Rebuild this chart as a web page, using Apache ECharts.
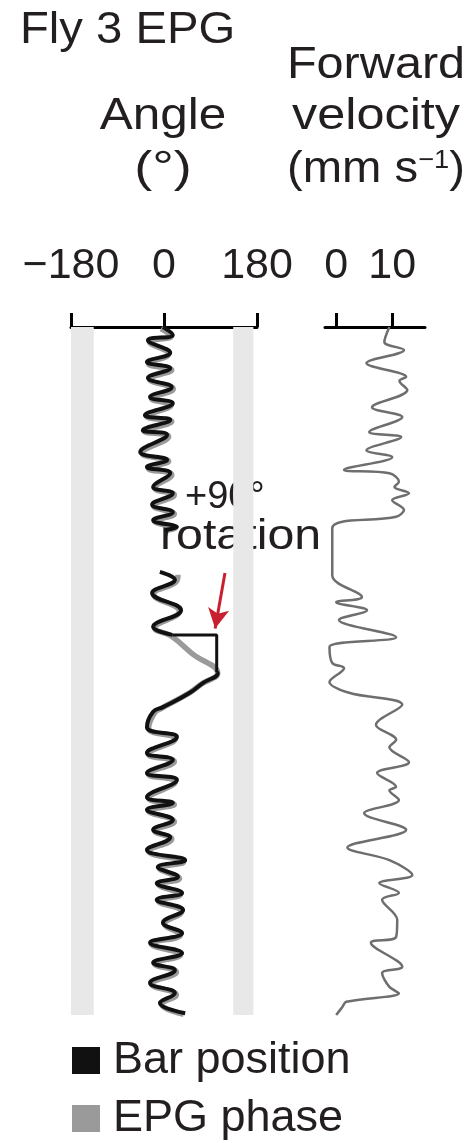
<!DOCTYPE html>
<html>
<head>
<meta charset="utf-8">
<script src="https://cdn.jsdelivr.net/npm/echarts@6/dist/echarts.min.js"></script>
<style>html,body{margin:0;padding:0;background:#fff}#c{width:476px;height:1143px}</style>
</head>
<body>
<div id="c"></div>
<script>
// ---- data (time in s, downward) ----
const angleTicks = [-180, 0, 180];
const velocityTicks = [0, 10];

const barTime  = [0.0,1.4,2.3,4.5,6.1,7.2,8.9,10.5,12.2,13.3,15.4,16.2,18.0,18.8,21.8,23.2,24.4,25.5,27.9,29.0,31.0,32.3,33.7,34.9,35.4,
  39.0,
  42.7,44.1,46.4,49.4,52.3,53.7,
  57.0,
  60.2,60.4,62.1,63.8,66.3,67.1,69.8,71.5,74.3,75.5,77.8,79.0,82.0,83.0,84.2,86.0,87.7,89.0,91.2,93.0,94.2,95.9,97.0,98.7,99.9,101.7,103.9,105.7,107.4,109.2,110.9,112.2,114.4,116.2,117.9,119.7];
const barAngle = [-2,17,-31,12,-33,12,-31,15,-27,17,-37,12,-41,6,-46,6,-33,12,-21,17,-23,17,-21,25,2,
  null,
  -8,21,-23,33,-21,16,
  null,
  102,104,75,50,-2,-21,-33,25,-33,17,-33,25,-33,17,-33,17,-21,12,-33,41,-12,27,-14,35,-14,37,-2,35,-27,35,-21,21,-27,21,-8,41];
// bar jump (+90° rotation of the bar)
const barStepTime  = [53.7, 53.7, 60.2];
const barStepAngle = [16, 102, 102];

const epgTime  = [0.3,1.6,2.6,4.7,6.4,7.5,9.1,10.8,12.5,13.6,15.6,16.5,18.2,19.1,22.0,23.4,24.7,25.8,28.1,29.3,31.2,32.6,33.9,35.1,35.4,
  39.0,
  43.2,44.4,46.6,49.6,52.5,53.9,57.0,60.4,62.3,64.0,66.5,67.3,70.0,71.8,74.5,75.8,78.0,79.3,82.2,83.3,84.4,86.3,87.9,89.3,91.4,93.3,94.4,96.2,97.2,99.0,100.1,102.0,104.1,106.0,107.6,109.5,111.1,112.5,114.6,116.5,118.1,119.9];
const epgAngle = [-6,14,-28,9,-30,15,-28,18,-24,14,-33,15,-38,9,-42,9,-30,15,-18,20,-20,20,-18,22,8,
  null,
  27,24,-20,30,-18,14,55,104,72,46,-5,-18,-30,22,-30,20,-30,22,-30,20,-30,20,-18,15,-30,38,-9,30,-11,32,-11,34,1,32,-24,32,-18,24,-24,24,-5,38];

const velTime  = [0,2.6,4.0,6.3,8.7,9.4,11.0,14.0,15.7,18.3,19.2,21.5,22.7,24.9,25.5,27.0,27.9,29.0,30.2,31.9,33.1,35.1,43.3,47.1,48.0,49.4,51.1,54.1,55.8,58.6,59.5,61.9,63.8,65.9,69.4,72.0,73.3,75.9,77.8,80.2,80.8,82.5,84.8,87.7,90.8,93.0,95.6,97.0,98.7,99.9,103.4,106.4,107.4,111.6,112.7,115.1,116.2,117.7,118.6,120.0];
const velValue = [9.5,8.6,12.1,5.4,12.5,11.3,12.7,6.4,11.8,5.9,11.6,5.4,10.0,1.4,9.5,11.2,10.4,13.0,10.0,12.1,10.7,-0.7,-0.7,4.6,0,5.5,0.5,10.7,-1.2,-0.7,1.4,-1.2,2.3,11.8,7.1,10.7,9.5,13.0,7.3,10.7,9.5,11.2,5.0,12.5,2.0,9.5,13.6,7.7,11.2,8.2,10.9,10.7,6.2,11.8,8.2,9.5,11.2,1.8,1.1,0];

const pair = (vals, times) => vals.map((v, i) => [v === null ? '-' : v, times[i]]);

const FONT = '"Liberation Sans", Arial, Helvetica, sans-serif';
const TXT = '#231f20';
const BLACK = '#111';
const GRAY = '#9a9a9a';

const chart = echarts.init(document.getElementById('c'), null, {renderer: 'canvas'});
const minus = v => (v < 0 ? '\u2212' + Math.abs(v) : String(v));

chart.setOption({
  animation: false,
  backgroundColor: '#fff',
  grid: [
    {left: 71, width: 186, top: 327, height: 688},
    {left: 325, width: 100, top: 327, height: 688}
  ],
  xAxis: [
    {gridIndex: 0, type: 'value', min: -180, max: 180, interval: 180, position: 'top', offset: 17,
     axisLine: {lineStyle: {color: '#000', width: 3}},
     axisTick: {length: 14, lineStyle: {color: '#000', width: 3}, customValues: angleTicks},
     axisLabel: {fontSize: 43, fontFamily: FONT, color: TXT, margin: 22, formatter: minus, customValues: angleTicks},
     splitLine: {show: false}},
    {gridIndex: 1, type: 'value', min: -2, max: 15.86, position: 'top', offset: 17,
     axisLine: {lineStyle: {color: '#000', width: 3}},
     axisTick: {length: 14, lineStyle: {color: '#000', width: 3}, customValues: velocityTicks},
     axisLabel: {fontSize: 43, fontFamily: FONT, color: TXT, margin: 22, formatter: minus, customValues: velocityTicks},
     splitLine: {show: false}}
  ],
  yAxis: [
    {gridIndex: 0, type: 'value', min: 0, max: 120, inverse: true, show: false},
    {gridIndex: 1, type: 'value', min: 0, max: 120, inverse: true, show: false}
  ],
  legend: {
    data: ['Bar position', 'EPG phase'], orient: 'vertical', left: 72, top: 1038, padding: 0,
    icon: 'rect', itemWidth: 28, itemHeight: 27, itemGap: 13, selectedMode: false,
    textStyle: {fontSize: 45, fontFamily: FONT, color: TXT, lineHeight: 44, padding: [0, 0, 0, 8]}
  },
  series: [
    {name: 'EPG phase', type: 'line', xAxisIndex: 0, yAxisIndex: 0, data: pair(epgAngle, epgTime),
     showSymbol: false, smooth: 0.45, color: GRAY,
     lineStyle: {color: GRAY, width: 5.5}, itemStyle: {color: GRAY},
     markArea: {silent: true, itemStyle: {color: '#e8e8e8'},
       data: [[{xAxis: -180}, {xAxis: -136}], [{xAxis: 134}, {xAxis: 173}]]}},
    {name: 'Bar position', type: 'line', xAxisIndex: 0, yAxisIndex: 0, data: pair(barAngle, barTime),
     showSymbol: false, smooth: 0.45, color: BLACK,
     lineStyle: {color: BLACK, width: 4}, itemStyle: {color: BLACK},
     markLine: {silent: true, symbol: ['none', 'arrow'], symbolSize: [16, 20],
       lineStyle: {color: '#c8202f', width: 3, type: 'solid'}, label: {show: false},
       data: [[{coord: [118, 42.9]}, {coord: [99, 52.6]}]]}},
    {name: 'Bar position', type: 'line', xAxisIndex: 0, yAxisIndex: 0, data: pair(barStepAngle, barStepTime),
     showSymbol: false, smooth: false, color: BLACK,
     lineStyle: {color: BLACK, width: 3}, itemStyle: {color: BLACK}},
    {type: 'line', xAxisIndex: 1, yAxisIndex: 1, data: pair(velValue, velTime),
     showSymbol: false, smooth: 0.35,
     lineStyle: {color: '#6e6e6e', width: 2.5}}
  ],
  graphic: [
    {type: 'text', x: 20, y: 31, scaleX: 1.05, style: {text: 'Fly 3 EPG', font: '45px ' + FONT, fill: TXT, verticalAlign: 'middle'}},
    {type: 'text', x: 376, y: 66, scaleX: 1.08, style: {text: 'Forward', font: '45px ' + FONT, fill: TXT, align: 'center', verticalAlign: 'middle'}},
    {type: 'text', x: 163, y: 117, scaleX: 1.1, style: {text: 'Angle', font: '45px ' + FONT, fill: TXT, align: 'center', verticalAlign: 'middle'}},
    {type: 'text', x: 376, y: 117, scaleX: 1.12, style: {text: 'velocity', font: '45px ' + FONT, fill: TXT, align: 'center', verticalAlign: 'middle'}},
    {type: 'text', x: 163, y: 170, scaleX: 1.2, style: {text: '(\u00b0)', font: '45px ' + FONT, fill: TXT, align: 'center', verticalAlign: 'middle'}},
    {type: 'text', x: 376, y: 170, scaleX: 1.05, style: {text: '(mm s{sup|\u22121})', font: '45px ' + FONT, fill: TXT, align: 'center', verticalAlign: 'middle',
      rich: {sup: {fontSize: 26, fontFamily: FONT, fill: TXT, verticalAlign: 'top', padding: [0, 0, 16, 0]}}}},
    {type: 'text', x: 185, y: 498, style: {text: '+90\u00b0', font: '38px ' + FONT, fill: TXT, verticalAlign: 'middle'}},
    {type: 'text', x: 160, y: 537, scaleX: 1.15, style: {text: 'rotation', font: '42px ' + FONT, fill: TXT, verticalAlign: 'middle'}}
  ]
});
</script>
</body>
</html>
